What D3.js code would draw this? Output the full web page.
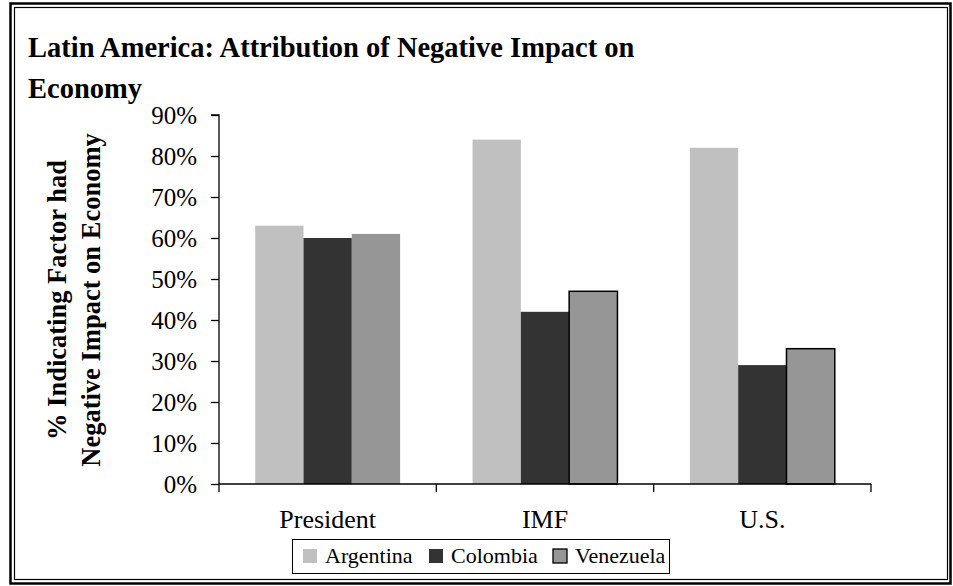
<!DOCTYPE html>
<html>
<head>
<meta charset="utf-8">
<script src="https://cdn.jsdelivr.net/npm/d3@7"></script>
<style>
  html, body { margin: 0; padding: 0; background: #fff; }
  svg { display: block; }
  text { font-family: "Liberation Serif", "Times New Roman", serif; fill: #000; }
</style>
</head>
<body>
<svg id="chart" width="953" height="586"></svg>
<script>
// ---- data ----
const categories = ["President", "IMF", "U.S."];
const seriesNames = ["Argentina", "Colombia", "Venezuela"];
const argentina = [0.63, 0.84, 0.82];
const colombia  = [0.60, 0.42, 0.29];
const venezuela = [0.61, 0.47, 0.33];
const yTicks = [0, 0.1, 0.2, 0.3, 0.4, 0.5, 0.6, 0.7, 0.8, 0.9];
const titleLines = ["Latin America: Attribution of Negative Impact on", "Economy"];
const yTitleLines = ["% Indicating Factor had", "Negative Impact on Economy"];

const seriesValues = [argentina, colombia, venezuela];
const colors = ["#c0c0c0", "#333333", "#969696"];

const svg = d3.select("#chart");

// frame
svg.append("rect").attr("x", 10.5).attr("y", 3.5).attr("width", 940).attr("height", 580)
  .attr("fill", "#fff").attr("stroke", "#000").attr("stroke-width", 2.5);
svg.append("rect").attr("x", 14.5).attr("y", 7.5).attr("width", 933).attr("height", 572)
  .attr("fill", "none").attr("stroke", "#000").attr("stroke-width", 1.2);

// scales
const x0 = d3.scaleBand().domain(categories).range([219, 871]).padding(0);
const x1 = d3.scaleBand().domain(seriesNames).range([0, x0.bandwidth()])
  .paddingInner(0).paddingOuter(0.75);
const y = d3.scaleLinear().domain([0, 0.9]).range([484, 115]);

// title
svg.append("g").selectAll("text").data(titleLines).join("text")
  .attr("x", 28).attr("y", (d, i) => 57 + i * 41)
  .attr("font-size", 28.5).attr("font-weight", "bold")
  .text(d => d);

// y-axis title
svg.append("g").selectAll("text").data(yTitleLines).join("text")
  .attr("transform", (d, i) => `translate(${66 + i * 34},300) rotate(-90)`)
  .attr("text-anchor", "middle")
  .attr("font-size", 26.5).attr("font-weight", "bold")
  .text(d => d);

// bars
const rows = categories.map((c, ci) => ({
  cat: c,
  vals: seriesNames.map((s, si) => ({ s, si, ci, v: seriesValues[si][ci] }))
}));
const groups = svg.append("g").selectAll("g").data(rows).join("g")
  .attr("transform", d => `translate(${x0(d.cat)},0)`);
groups.selectAll("rect").data(d => d.vals).join("rect")
  .attr("x", d => x1(d.s))
  .attr("y", d => y(d.v))
  .attr("width", x1.bandwidth())
  .attr("height", d => y(0) - y(d.v))
  .attr("fill", d => colors[d.si])
  .attr("stroke", d => (d.si === 2 && d.ci > 0) ? "#000" : "none")
  .attr("stroke-width", 1.5);

// y axis
const yAxis = d3.axisLeft(y).tickValues(yTicks).tickFormat(d3.format(".0%"))
  .tickSize(8).tickPadding(14);
const yg = svg.append("g").attr("transform", "translate(219,0)").call(yAxis);
yg.select(".domain").attr("stroke", "#000").attr("stroke-width", 1.3).attr("d", `M-8,${y(0.9)}H0V${y(0)}`);
yg.selectAll(".tick line").attr("stroke", "#000").attr("stroke-width", 1.3);
yg.selectAll(".tick text").attr("font-family", "Liberation Serif").attr("font-size", 25).attr("fill", "#000");

// x axis
const xAxis = d3.axisBottom(x0).tickSize(0).tickPadding(0);
const xg = svg.append("g").attr("transform", `translate(0,${y(0)})`).call(xAxis);
xg.select(".domain").attr("stroke", "#000").attr("stroke-width", 1.3)
  .attr("d", `M219,0H871`);
xg.selectAll(".tick text").attr("font-family", "Liberation Serif").attr("font-size", 26)
  .attr("fill", "#000").attr("dy", 0).attr("y", 44);
// category boundary ticks
const bounds = categories.map(c => x0(c)).concat([x0(categories[categories.length - 1]) + x0.bandwidth()]);
xg.append("g").selectAll("line").data(bounds).join("line")
  .attr("x1", d => d).attr("x2", d => d).attr("y1", 0).attr("y2", 8)
  .attr("stroke", "#000").attr("stroke-width", 1.3);

// legend
const lg = svg.append("g");
lg.append("rect").attr("x", 292.5).attr("y", 539.5).attr("width", 377).attr("height", 34)
  .attr("fill", "#fff").attr("stroke", "#000").attr("stroke-width", 1);
const legendX = [303, 429, 553];
const items = lg.selectAll("g").data(seriesNames).join("g")
  .attr("transform", (d, i) => `translate(${legendX[i]},0)`);
items.append("rect").attr("x", 0).attr("y", 549).attr("width", 14).attr("height", 14)
  .attr("fill", (d, i) => colors[i])
  .attr("stroke", (d, i) => i === 2 ? "#000" : "none").attr("stroke-width", 1.3);
items.append("text").attr("x", 22).attr("y", 563).attr("font-size", 22).text(d => d);
</script>
</body>
</html>
